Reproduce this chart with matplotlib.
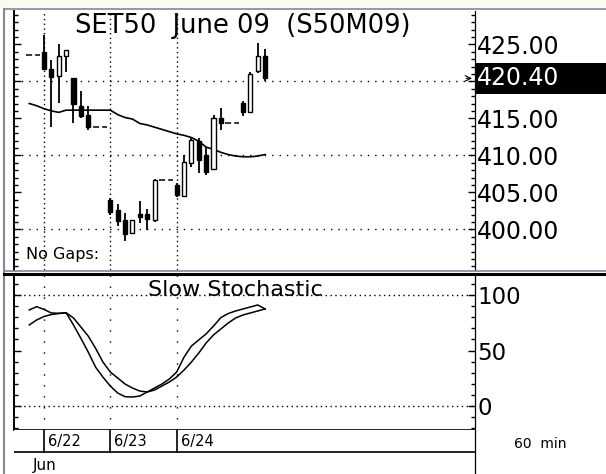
import matplotlib
matplotlib.use("Agg")
import matplotlib.pyplot as plt
from matplotlib.patches import Rectangle
from matplotlib.lines import Line2D
from matplotlib.ticker import FixedLocator, MultipleLocator, FuncFormatter
from matplotlib.transforms import blended_transform_factory

plt.rcParams['font.family'] = ['DejaVu Sans']

# hourly bars, x = slot index (9 slots per trading day)
candle_slot = [0, 1, 2, 3, 4, 5, 6,
               9, 10, 11, 12, 13, 14, 15,
               18, 19, 20, 21, 22, 23, 24,
               27, 28, 29, 30]
opens = [424.0, 421.7, 420.7, 423.4, 420.5, 416.6, 415.4,
         404.0, 402.6, 401.3, 399.5, 402.1, 402.1, 401.3,
         406.0, 404.5, 408.9, 412.0, 410.0, 408.1, 415.0,
         417.0, 415.9, 421.4, 423.4]
highs = [426.2, 422.9, 425.0, 424.2, 420.5, 418.7, 416.6,
         404.2, 403.4, 402.2, 401.3, 403.8, 402.7, 406.8,
         406.2, 410.0, 412.3, 412.3, 411.1, 415.4, 416.4,
         417.4, 421.2, 425.2, 424.4]
lows = [421.6, 413.8, 417.1, 421.3, 414.3, 415.0, 413.4,
        401.9, 400.4, 398.4, 399.4, 400.9, 399.9, 401.0,
        404.4, 404.4, 408.4, 407.6, 407.4, 408.0, 413.4,
        415.3, 415.8, 421.1, 420.0]
closes = [421.7, 420.6, 423.4, 424.2, 416.9, 415.3, 413.8,
          402.3, 401.1, 399.4, 401.2, 401.6, 401.4, 406.6,
          404.6, 409.1, 412.0, 409.4, 407.8, 415.0, 414.4,
          415.8, 421.0, 423.4, 420.4]
prev_close = 423.6
last_price = 420.4

line_slot = list(range(-2, 31))
moving_avg = [417.0, 416.7, 416.3, 416.0, 415.8, 416.1, 416.1, 416.1, 416.1, 416.1,
              416.1, 416.1, 415.5, 415.1, 414.9, 414.3, 414.1, 413.8, 413.5, 413.2,
              412.9, 412.7, 412.4, 411.9, 411.1, 410.8, 410.4, 410.1, 409.9, 409.8,
              409.8, 409.9, 410.1]
stoch_k = [86.5, 89.5, 87.0, 83.8, 83.5, 84.0, 73.0, 61.0, 48.6, 35.0,
           26.0, 18.0, 11.7, 8.4, 8.1, 9.0, 12.6, 16.2, 19.8, 24.3,
           30.6, 44.0, 54.0, 59.5, 65.0, 72.0, 79.7, 83.3, 85.6, 87.4,
           89.2, 91.0, 87.4]
stoch_d = [73.0, 77.5, 80.6, 82.4, 83.3, 84.0, 79.3, 71.2, 63.0, 52.0,
           39.6, 30.6, 25.2, 19.8, 16.2, 13.5, 12.6, 14.4, 18.0, 21.6,
           26.1, 32.4, 39.6, 47.7, 56.8, 64.0, 69.4, 74.8, 79.3, 82.0,
           83.8, 85.6, 87.4]

day_slot = [0, 9, 18]
day_labels = ['6/22', '6/23', '6/24']
month_label = 'Jun'
price_ticks = [400, 405, 410, 415, 420, 425]
stoch_ticks = [0, 50, 100]

W, H = 606, 474


def fbox(x0, y0, x1, y1):
    return [x0 / W, 1 - y1 / H, (x1 - x0) / W, (y1 - y0) / H]


fig = plt.figure(figsize=(W / 100, H / 100), dpi=100)
fig.patch.set_facecolor('white')

xlim = ((14 - 44) / 7.37, (475 - 44) / 7.37)

ax = fig.add_axes(fbox(14, 11, 475, 270))
ax2 = fig.add_axes(fbox(14, 275, 475, 430))
ax3 = fig.add_axes(fbox(14, 430, 475, 474))

# ---- price panel ----
ax.set_xlim(*xlim)
ax.set_ylim(394.5, 429.5)
for y in [400, 410, 420]:
    ax.axhline(y, color='black', lw=1, ls=(0, (1, 4.3)), zorder=1)
for s in day_slot:
    ax.axvline(s, color='black', lw=1, ls=(0, (1, 2.4)), zorder=1)

# dashed flat lines where no bar was traded
last = prev_close
gap = []
for s in range(-2, 31):
    if s in candle_slot:
        if gap:
            ax.plot([gap[0] - 0.4, gap[-1] + 0.5], [last, last], color='black',
                    lw=1.1, ls=(0, (4, 2)), zorder=3)
            gap = []
        last = closes[candle_slot.index(s)]
    else:
        gap.append(s)

for s, o, h, l, c in zip(candle_slot, opens, highs, lows, closes):
    ax.vlines(s, l, h, color='black', lw=1.3, zorder=3)
    fc = 'white' if c >= o else 'black'
    ax.bar(s, max(abs(c - o), 0.15), bottom=min(o, c), width=0.55,
           facecolor=fc, edgecolor='black', lw=1, zorder=4)

ax.plot(line_slot, moving_avg, color='black', lw=1.2, zorder=2)

ax.yaxis.set_major_locator(FixedLocator(price_ticks))
ax.yaxis.set_minor_locator(MultipleLocator(1))
ax.yaxis.set_major_formatter(FuncFormatter(lambda v, p: '' if v == 420 else f'{v:.2f}'))
ax.tick_params(axis='y', which='both', direction='in', left=True, right=True,
               labelleft=False, labelright=True, labelsize=17, pad=1.5, width=1)
ax.tick_params(axis='y', which='major', length=5)
ax.tick_params(axis='y', which='minor', length=3)
ax.tick_params(axis='x', which='both', bottom=False, labelbottom=False)
ax.spines['top'].set_visible(False)
ax.spines['bottom'].set_visible(False)
ax.spines['left'].set_linewidth(1.4)
ax.spines['right'].set_linewidth(0.9)

ax.text(-2.45, 396.6, 'No Gaps:', fontsize=11.5, va='center', ha='left')
ax.annotate('', xy=(58.45, last_price), xytext=(56.9, last_price),
            arrowprops=dict(arrowstyle='->', lw=0.8, color='black'))

tr = blended_transform_factory(fig.transFigure, ax.transData)
fig.add_artist(Rectangle((476 / W, last_price - 2.1), 130 / W, 4.2, transform=tr,
                         facecolor='black', edgecolor='none'))
fig.text(477 / W, last_price, f'{last_price:.2f}', transform=tr, color='white',
         fontsize=17, va='center', ha='left')

fig.text(243 / W, 1 - 26 / H, 'SET50  June 09  (S50M09)', fontsize=18.5,
         ha='center', va='center')

# ---- stochastic panel ----
ax2.set_xlim(*xlim)
ax2.set_ylim(-21.6, 118)
for y in [0, 100]:
    ax2.axhline(y, color='black', lw=1, ls=(0, (1, 2.5)), zorder=1)
for s in day_slot:
    ax2.axvline(s, color='black', lw=1, ls=(0, (1, 6.9)), zorder=1)
ax2.plot(line_slot, stoch_k, color='black', lw=1.1)
ax2.plot(line_slot, stoch_d, color='black', lw=1.1)
ax2.text((148 - 44) / 7.37, 99.5, 'Slow Stochastic', fontsize=16, va='baseline', ha='left')

ax2.yaxis.set_major_locator(FixedLocator(stoch_ticks))
ax2.yaxis.set_minor_locator(MultipleLocator(10))
ax2.yaxis.set_major_formatter(FuncFormatter(lambda v, p: f'{v:.0f}'))
ax2.tick_params(axis='y', which='both', direction='in', left=True, right=True,
                labelleft=False, labelright=True, labelsize=16.5, pad=1.5, width=1)
ax2.tick_params(axis='y', which='major', length=5)
ax2.tick_params(axis='y', which='minor', length=3)
ax2.tick_params(axis='x', which='both', bottom=False, labelbottom=False)
ax2.spines['top'].set_visible(False)
ax2.spines['left'].set_linewidth(1.4)
ax2.spines['bottom'].set_linewidth(1.2)
ax2.spines['right'].set_linewidth(0.9)

# ---- date strip ----
ax3.set_xlim(*xlim)
ax3.set_ylim(0, 1)
ax3.set_xticks([])
ax3.set_yticks([])
for sp in ['top', 'left', 'bottom']:
    ax3.spines[sp].set_visible(False)
ax3.spines['right'].set_linewidth(0.9)
ax3.axhline(0.5, color='black', lw=1.2)
for s, lab in zip(day_slot, day_labels):
    ax3.plot([s, s], [0.5, 1], color='black', lw=1.2)
    ax3.text(s + 0.55, 0.74, lab, fontsize=10.5, va='center', ha='left')
ax3.text(-1.5, 0.19, month_label, fontsize=11, va='center', ha='left')
fig.text(540 / W, 1 - 444 / H, '60  min', fontsize=10, ha='center', va='center')

# ---- window frame ----
fig.add_artist(Rectangle((0, 1 - 8 / H), 1, 8 / H, transform=fig.transFigure,
                         facecolor='#fbfaf0', edgecolor='none'))
fig.add_artist(Line2D([4 / W, 1], [1 - 9 / H, 1 - 9 / H], transform=fig.transFigure,
                      color='#8c8299', lw=1.2))
fig.add_artist(Line2D([4 / W, 4 / W], [0, 1 - 9 / H], transform=fig.transFigure,
                      color='#8c8299', lw=1.5))
fig.add_artist(Line2D([4 / W, 1], [1 - 271 / H, 1 - 271 / H], transform=fig.transFigure,
                      color='#8c8299', lw=1.2))
fig.add_artist(Line2D([4 / W, 1], [1 - 273.5 / H, 1 - 273.5 / H], transform=fig.transFigure,
                      color='black', lw=2.2))

fig.savefig('out.png', dpi=100)
